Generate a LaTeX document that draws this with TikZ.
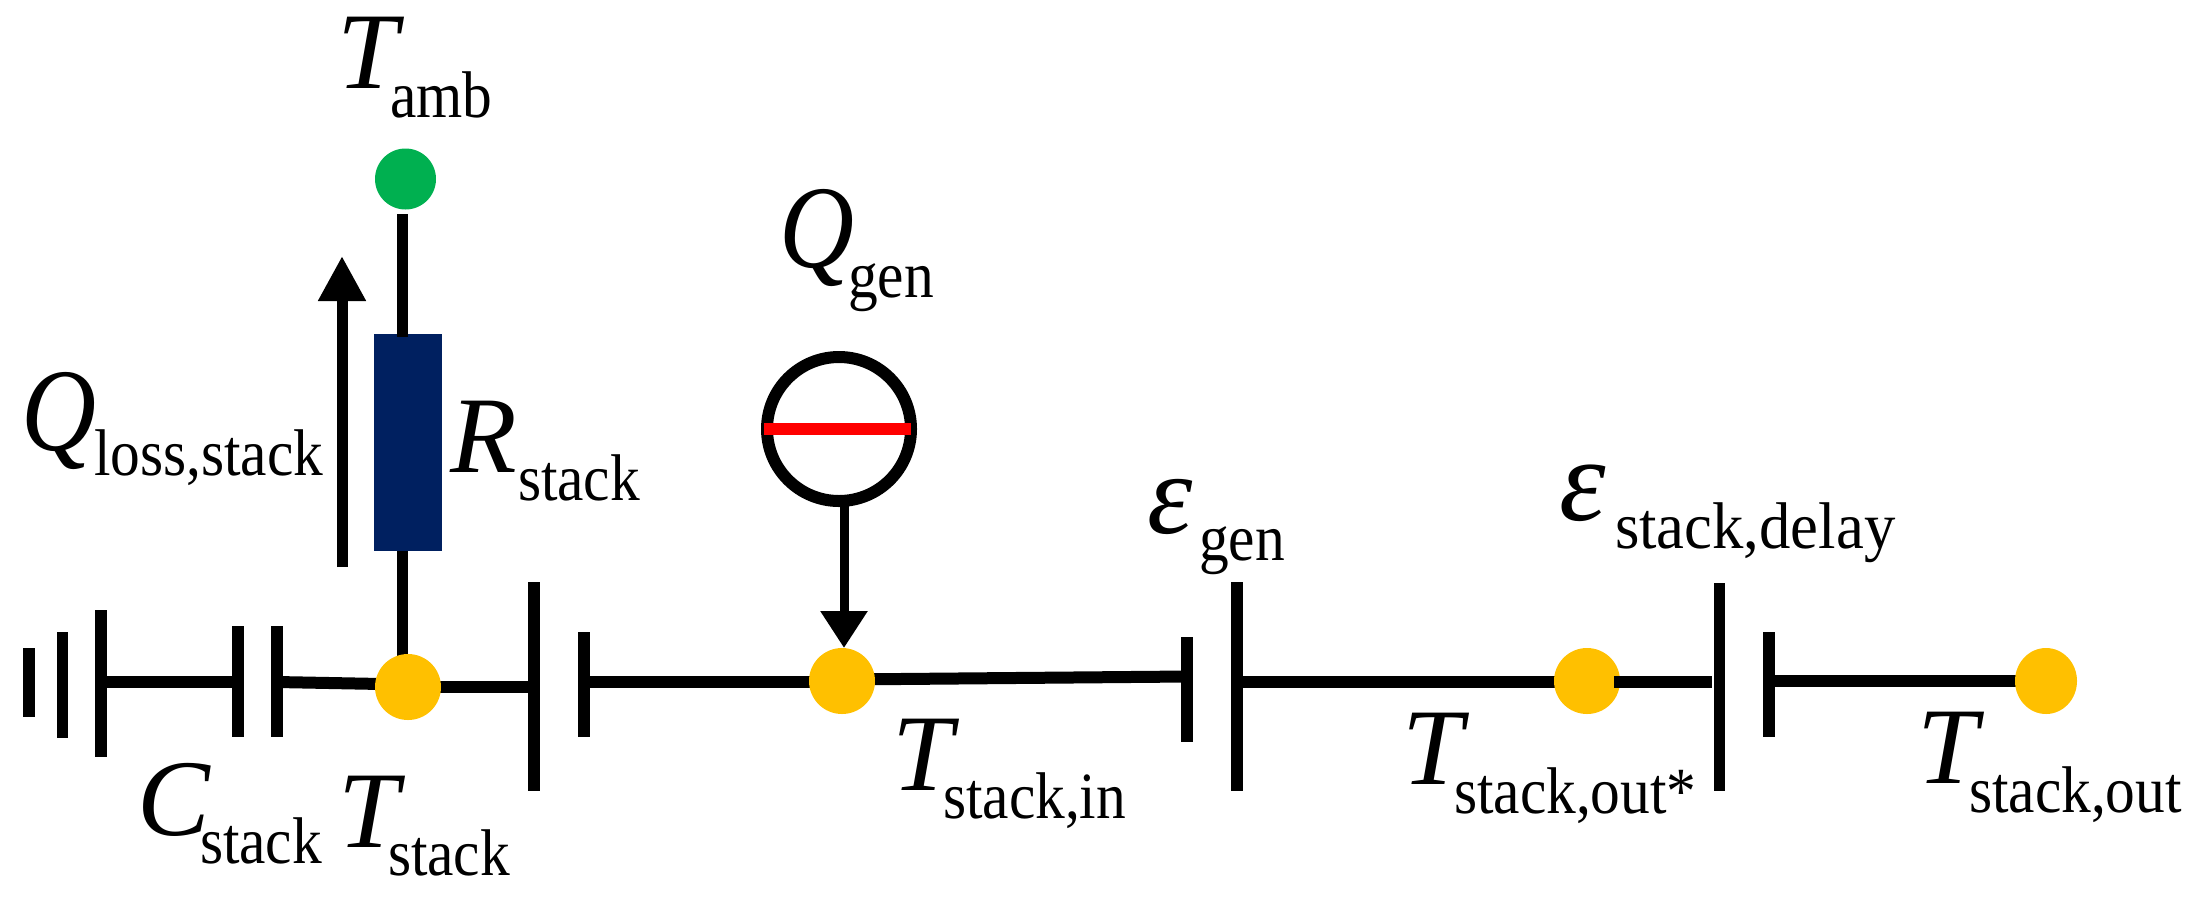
\documentclass[tikz,border=0pt]{standalone}
\usepackage{fontspec}
\setmainfont{Liberation Serif}
\newfontfamily\subfont{Liberation Serif}[FakeStretch=0.9]
\newfontfamily\widesubfont{Liberation Serif}[FakeStretch=0.95]
\newfontfamily\narrowfont{Liberation Serif}[FakeStretch=0.88]
\usetikzlibrary{backgrounds,arrows.meta,shapes.geometric}
\newcommand{\lab}[5][109]{\makebox[#2pt][l]{\fontsize{#1}{#1}\selectfont\itshape #4}\raisebox{-#3pt}{\subfont\fontsize{66}{66}\selectfont #5}}
\tikzset{
  x=1pt,y=-1pt,
  wire/.style={line width=12pt,black},
  thin wire/.style={line width=11pt,black},
  plate/.style={rectangle,fill=black,inner sep=0pt,minimum width=11.5pt},
  dot/.style={circle,inner sep=0pt,minimum size=66pt,fill=#1},
  txt/.style={anchor=base west,inner sep=0pt,outer sep=0pt},
  flow/.style={line width=11pt,black,-{Triangle[length=45pt,width=45pt]}},
}
\definecolor{amberdot}{HTML}{FFC000}
\definecolor{greendot}{HTML}{00B050}
\definecolor{navyres}{HTML}{002060}
\begin{document}
\begin{tikzpicture}
\useasboundingbox (0,0) rectangle (2198,898);
% ground and capacitor plates
\node[plate,minimum height=69pt]  (g1) at (29,682.5) {};
\node[plate,minimum height=106pt] (g2) at (62.5,685) {};
\node[plate,minimum height=147pt] (g3) at (101,683.5) {};
\node[plate,minimum height=111pt] (c1) at (238,681.5) {};
\node[plate,minimum height=111pt] (c2) at (277,681.5) {};
\node[plate,minimum height=209pt] (p1) at (534,686.5) {};
\node[plate,minimum height=105pt] (p2) at (584,684.5) {};
\node[plate,minimum height=105pt] (p3) at (1187,689.5) {};
\node[plate,minimum height=209pt] (p4) at (1237,686.5) {};
\node[plate,minimum height=208pt] (p5) at (1719.5,687) {};
\node[plate,minimum height=105pt] (p6) at (1769,684.5) {};
% temperature nodes
\node[dot=amberdot] (n1) at (408,687) {};
\node[dot=amberdot] (n2) at (842,681) {};
\node[dot=amberdot] (n3) at (1587,681) {};
\node[ellipse,fill=amberdot,inner sep=0pt,minimum width=62pt,minimum height=66pt] (n4) at (2046,681) {};
\node[dot=greendot,minimum size=61pt] (amb) at (405.5,179) {};
% resistor and heat source
\node[rectangle,fill=navyres,inner sep=0pt,minimum width=68pt,minimum height=217pt] (res) at (408,442.5) {};
\node[circle,draw=black,line width=12pt,inner sep=0pt,minimum size=144pt,outer sep=0pt] (src) at (839,429) {};
\node[rectangle,fill=red,inner sep=0pt,minimum width=147pt,minimum height=12pt] (bar) at (837.5,429) {};
% wire end points
\coordinate (wa) at (402,214);
\coordinate (wb) at (402,337);
\coordinate (wc) at (402,551);
\coordinate (wd) at (402,665);
\coordinate (ga) at (101,682);
\coordinate (ca) at (238,682);
\coordinate (cb) at (277,682);
\coordinate (na) at (408,684.5);
\coordinate (nb) at (408,687);
\coordinate (pa) at (534,687);
\coordinate (pb) at (584,682);
\coordinate (nc) at (842,682);
\coordinate (nd) at (842,679.5);
\coordinate (pc) at (1187,676.5);
\coordinate (pd) at (1237,682);
\coordinate (ne) at (1587,682);
\coordinate (nf) at (1614,682);
\coordinate (pe) at (1712,682);
\coordinate (pf) at (1769,681);
\coordinate (ng) at (2046,681);
\coordinate (fa) at (342,567);
\coordinate (fb) at (342,256);
\coordinate (sa) at (844,506);
\coordinate (sb) at (844,648);
\begin{scope}[on background layer]
\draw[wire] (ga) -- (ca);
\draw[wire] (cb) -- (na);
\draw[wire] (nb) -- (pa);
\draw[wire] (pb) -- (nc);
\draw[wire] (nd) -- (pc);
\draw[wire] (pd) -- (ne);
\draw[wire] (pf) -- (ng);
\draw[thin wire] (wc) -- (wd);
\end{scope}
\draw[wire] (nf) -- (pe);
\draw[thin wire] (wa) -- (wb);
\draw[flow] (fa) -- (fb);
\draw[line width=9pt,black,-{Triangle[length=37pt,width=45pt]}] (sa) -- (sb);
% labels
\node[txt] (lamb) at (337,88) {\lab{53}{29}{T}{amb}};
\node[txt] (lgen) at (779,267) {\lab[118]{69}{30}{\narrowfont Q}{gen}};
\node[txt] (lloss) at (21,450) {\lab[118]{73}{25}{\narrowfont Q}{loss,stack}};
\node[txt] (lres) at (450,472) {\lab{68}{28}{R}{stack}};
\node[txt] (lcap) at (137,835) {\lab{63}{28}{C}{stack}};
\node[txt] (lts) at (338,847) {\lab{50}{28}{T}{stack}};
\node[txt] (ltin) at (892,790) {\lab{51}{28}{T}{stack,in}};
\node[txt] (ltos) at (1402,784) {\lab{52}{29}{T}{stack,out*}};
\node[txt] (lto) at (1917,783) {\lab{52}{29}{T}{stack,out}};
\node[txt] (leg) at (1147,533) {\lab[115]{52}{27}{ε}{gen}};
\node[txt] (led) at (1559,520) {\lab[118]{56}{28}{ε}{\widesubfont\fontsize{66}{66}\selectfont stack,delay}};
\end{tikzpicture}
\end{document}
